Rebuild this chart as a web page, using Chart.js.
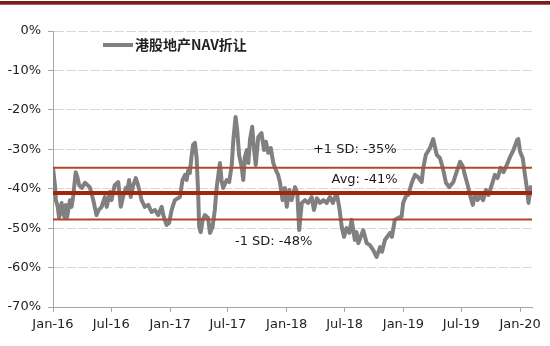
<!DOCTYPE html>
<html><head><meta charset="utf-8">
<script src="https://cdn.jsdelivr.net/npm/chart.js@4.4.0/dist/chart.umd.min.js"></script>
<style>html,body{margin:0;padding:0;background:#fff;}#wrap{width:550px;height:346px;position:relative;}</style>
</head><body><div id="wrap"><canvas id="c" width="550" height="346"></canvas></div>
<script>
// ---- data ----
const seriesName = '港股地产NAV折让';
const dates = [
'2016-01-01','2016-01-07','2016-01-10','2016-01-16','2016-01-20','2016-01-28','2016-01-31','2016-02-07','2016-02-10','2016-02-14','2016-02-23','2016-02-28','2016-03-04','2016-03-12','2016-03-17','2016-03-23','2016-03-31','2016-04-10','2016-04-25','2016-05-06','2016-05-16','2016-05-23','2016-06-01','2016-06-11','2016-06-17','2016-06-27','2016-07-02','2016-07-12','2016-07-23','2016-07-31','2016-08-07','2016-08-16','2016-08-20','2016-08-26','2016-08-31','2016-09-08','2016-09-16','2016-09-23','2016-10-04','2016-10-14','2016-10-25','2016-11-04','2016-11-15','2016-11-25','2016-12-06','2016-12-11','2016-12-21','2016-12-29',
'2017-01-06','2017-01-16','2017-02-01','2017-02-09','2017-02-17','2017-02-22','2017-02-27','2017-03-04','2017-03-09','2017-03-14','2017-03-20','2017-03-25','2017-03-30','2017-04-02','2017-04-07','2017-04-13','2017-04-20','2017-04-30','2017-05-06','2017-05-14','2017-05-21','2017-05-27','2017-06-01','2017-06-06','2017-06-11','2017-06-16','2017-06-27','2017-07-05','2017-07-13','2017-07-18','2017-07-25','2017-07-30','2017-08-05','2017-08-13','2017-08-18','2017-08-23','2017-08-29','2017-09-03','2017-09-08','2017-09-15','2017-09-20','2017-09-26','2017-10-04','2017-10-14','2017-10-22','2017-10-28','2017-11-04','2017-11-12','2017-11-20','2017-11-28','2017-12-05','2017-12-11','2017-12-19','2017-12-26',
'2018-01-01','2018-01-09','2018-01-16','2018-01-27','2018-02-03','2018-02-09','2018-02-17','2018-02-27','2018-03-09','2018-03-20','2018-03-27','2018-04-05','2018-04-15','2018-04-25','2018-05-06','2018-05-16','2018-05-25','2018-06-06','2018-06-14','2018-06-22','2018-06-29','2018-07-07','2018-07-16','2018-07-23','2018-08-02','2018-08-07','2018-08-13','2018-08-28','2018-09-08','2018-09-18','2018-09-28','2018-10-09','2018-10-20','2018-10-26','2018-11-04','2018-11-20','2018-11-26','2018-12-05','2018-12-21','2018-12-26','2018-12-31',
'2019-01-06','2019-01-11','2019-01-16','2019-01-27','2019-02-06','2019-02-15','2019-02-27','2019-03-04','2019-03-12','2019-03-25','2019-04-04','2019-04-15','2019-04-25','2019-05-04','2019-05-14','2019-05-24','2019-06-06','2019-06-16','2019-06-27','2019-07-05','2019-07-12','2019-07-21','2019-07-28','2019-08-06','2019-08-13','2019-08-21','2019-08-29','2019-09-07','2019-09-16','2019-09-24','2019-10-04','2019-10-14','2019-10-22','2019-11-01','2019-11-10','2019-11-20','2019-11-30','2019-12-11','2019-12-23','2019-12-26',
'2020-01-01','2020-01-09','2020-01-16','2020-01-22','2020-01-27','2020-02-03','2020-02-09'
];
const values = [
-34.7,-39.1,-42.9,-44.6,-47.4,-43.6,-45.9,-47.4,-44.1,-47.2,-42.9,-44.6,-42.1,-35.8,-37.0,-39.1,-39.8,-38.5,-39.6,-42.9,-46.7,-45.4,-44.6,-42.1,-44.6,-40.8,-42.9,-39.1,-38.3,-44.6,-42.1,-39.8,-40.8,-37.8,-42.1,-39.1,-37.3,-39.1,-42.9,-44.6,-44.1,-45.9,-45.4,-46.7,-44.6,-46.7,-49.2,-48.7,
-45.4,-42.9,-42.1,-37.8,-36.5,-37.8,-35.3,-36.0,-32.0,-28.9,-28.4,-32.0,-41.1,-49.7,-51.0,-47.9,-46.7,-47.4,-51.2,-49.7,-45.4,-39.6,-36.5,-33.5,-37.8,-39.8,-37.8,-38.3,-34.0,-27.6,-21.8,-25.1,-31.4,-34.5,-37.8,-32.0,-30.2,-33.5,-27.6,-24.3,-29.4,-34.0,-26.9,-25.9,-30.2,-28.1,-30.9,-29.7,-33.5,-35.3,-36.5,-38.5,-42.9,-39.8,
-44.6,-40.3,-42.9,-39.6,-41.1,-50.5,-43.6,-42.9,-43.6,-42.1,-45.4,-42.4,-43.6,-42.9,-43.6,-42.1,-43.6,-41.1,-44.6,-49.7,-52.2,-50.0,-51.2,-47.9,-53.0,-51.0,-53.8,-50.5,-53.8,-54.3,-55.5,-57.3,-54.8,-56.0,-53.0,-51.2,-52.2,-47.9,-47.2,-47.2,-43.6,
-42.4,-41.6,-41.6,-38.5,-36.5,-37.0,-38.3,-34.7,-31.4,-29.7,-27.4,-31.4,-32.2,-34.7,-38.5,-39.6,-38.3,-35.8,-33.2,-34.2,-36.5,-39.1,-41.6,-44.1,-41.1,-42.9,-41.6,-42.9,-40.3,-41.6,-39.1,-36.5,-37.3,-34.7,-35.8,-34.0,-32.0,-30.2,-27.6,-27.4,
-30.7,-32.2,-36.5,-39.8,-43.6,-39.6,-40.8
];
const refNames  = ['+1 SD', 'Avg', '-1 SD'];
const refValues = [-34.7, -41.1, -47.8];
const refLabels = ['+1 SD: -35%', 'Avg: -41%', '-1 SD: -48%'];
const xTickDates  = ['2016-01-01','2016-07-01','2017-01-01','2017-07-01','2018-01-01','2018-07-01','2019-01-01','2019-07-01','2020-01-01'];
const xTickLabels = ['Jan-16','Jul-16','Jan-17','Jul-17','Jan-18','Jul-18','Jan-19','Jul-19','Jan-20'];
const yTickValues = [0,-10,-20,-30,-40,-50,-60,-70];
const axisStart = '2016-01-01', axisEnd = '2020-02-07';

// ---- helpers ----
const DAY = 86400000;
const base = Date.UTC(2016,0,1);
function dayOf(s){ const p = s.split('-').map(Number); return (Date.UTC(p[0],p[1]-1,p[2]) - base)/DAY; }

const xMin = dayOf(axisStart), xMax = dayOf(axisEnd);
const mainData = dates.map((d,i)=>({x:dayOf(d), y:values[i]}));
const refStyles = [
  {color:'#b4472b', width:2},
  {color:'#a3260c', width:4},
  {color:'#b4472b', width:2}
];
const refDatasets = refValues.map((v,i)=>({
  label: refNames[i],
  data: [{x:xMin,y:v},{x:xMax,y:v}],
  borderColor: refStyles[i].color,
  borderWidth: refStyles[i].width,
  pointRadius: 0,
  order: 0
}));

// label placement (date anchor + value anchor for text)
const refLabelPos = [
  {date:'2018-03-24', y:-30.2},
  {date:'2018-05-21', y:-37.8},
  {date:'2017-07-23', y:-53.4}
];

const FONT = '"DejaVu Sans", Verdana, sans-serif';

const decor = {
  id:'decor',
  beforeDraw(chart){
    const c = chart.ctx;
    c.save();
    c.fillStyle = '#7c1d1d';
    c.fillRect(0,1,550,3);
    c.fillStyle = '#b06060';
    c.fillRect(0,4,550,1);
    c.restore();
  },
  afterDatasetsDraw(chart){
    const c = chart.ctx, xs = chart.scales.x, ys = chart.scales.y;
    c.save();
    // reference labels
    c.font = '13px ' + FONT;
    c.fillStyle = '#1a1a1a';
    c.textBaseline = 'middle';
    c.textAlign = 'left';
    refLabels.forEach((t,i)=>{
      c.fillText(t, xs.getPixelForValue(dayOf(refLabelPos[i].date)), ys.getPixelForValue(refLabelPos[i].y));
    });
    // legend
    c.strokeStyle = '#808080';
    c.lineWidth = 4;
    c.beginPath(); c.moveTo(103,45); c.lineTo(133,45); c.stroke();
    c.font = 'bold 14px "Noto Sans CJK SC", sans-serif';
    c.fillStyle = '#222';
    c.fillText(seriesName, 135, 45);
    c.restore();
  }
};

new Chart(document.getElementById('c'), {
  type:'line',
  data:{ datasets:[
    ...refDatasets,
    { label: seriesName, data: mainData, borderColor:'#808080', borderWidth:4, pointRadius:0, tension:0, borderJoinStyle:'round', order:1 }
  ]},
  options:{
    responsive:false, animation:false, devicePixelRatio:1,
    layout:{ padding:{ left:0, right:18, top:31, bottom:0 } },
    plugins:{ legend:{display:false}, tooltip:{enabled:false} },
    scales:{
      x:{
        type:'linear', min:xMin, max:xMax,
        afterBuildTicks(s){ s.ticks = xTickDates.map(d=>({value:dayOf(d)})); },
        afterFit(s){ s.height = 39; },
        ticks:{ autoSkip:false, maxRotation:0, padding:5, color:'#222', font:{family:FONT, size:13},
          callback:(v,i)=>xTickLabels[i] },
        grid:{ drawOnChartArea:false, drawTicks:true, tickLength:5, color:'#a6a6a6' },
        border:{ color:'#a6a6a6', width:1 }
      },
      y:{
        min:-70, max:0,
        afterBuildTicks(s){ s.ticks = yTickValues.map(v=>({value:v})); },
        afterFit(s){ s.width = 53; },
        ticks:{ padding:7, color:'#222', font:{family:FONT, size:13}, callback:v=>v+'%' },
        grid:{ color:ctx=> (ctx.tick && ctx.tick.value===-70) ? 'rgba(0,0,0,0)' : '#d9d9d9', tickColor:'#a6a6a6', tickLength:5, lineWidth:1 },
        border:{ color:'#a6a6a6', width:1, dash:[10,2] }
      }
    }
  },
  plugins:[decor]
});
</script></body></html>
